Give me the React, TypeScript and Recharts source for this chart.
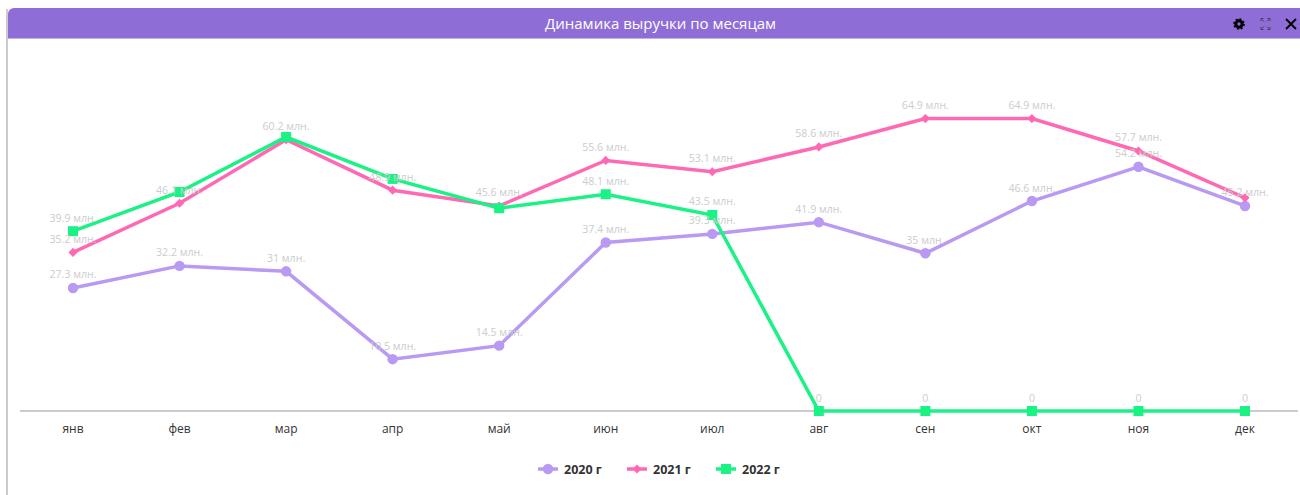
import React from "react";
import { LineChart, Line, XAxis, YAxis, Legend, LabelList, Symbols } from "recharts";

const months = ["янв", "фев", "мар", "апр", "май", "июн", "июл", "авг", "сен", "окт", "ноя", "дек"];
const values2020 = [27.3, 32.2, 31, 11.5, 14.5, 37.4, 39.3, 41.9, 35, 46.6, 54.2, 45.5];
const values2021 = [35.2, 46.1, 60.2, 49, 45.5, 55.6, 53.1, 58.6, 64.9, 64.9, 57.7, 47.3];
const values2022 = [39.9, 48.6, 60.8, 51.5, 45, 48.1, 43.5, 0, 0, 0, 0, 0];
const labels2020 = ["27.3 млн.", "32.2 млн.", "31 млн.", "10.5 млн.", "14.5 млн.", "37.4 млн.", "39.3 млн.", "41.9 млн.", "35 млн.", "46.6 млн.", "54.2 млн.", "45.2 млн."];
const labels2021 = ["35.2 млн.", "46.1 млн.", "60.2 млн.", "48.9 млн.", "45.6 млн.", "55.6 млн.", "53.1 млн.", "58.6 млн.", "64.9 млн.", "64.9 млн.", "57.7 млн.", ""];
const labels2022 = ["39.9 млн.", "", "", "", "", "48.1 млн.", "43.5 млн.", "0", "0", "0", "0", "0"];

const series = [
  { key: "y2020", name: "2020 г", color: "#b89af2", symbol: "circle", size: 85, label: "l2020", rotate: false },
  { key: "y2021", name: "2021 г", color: "#ff69b4", symbol: "square", size: 42, label: "l2021", rotate: true },
  { key: "y2022", name: "2022 г", color: "#1af285", symbol: "square", size: 100, label: "l2022", rotate: false },
] as const;

const data = months.map((month, i) => ({
  month,
  y2020: values2020[i],
  y2021: values2021[i],
  y2022: values2022[i],
  l2020: labels2020[i],
  l2021: labels2021[i],
  l2022: labels2022[i],
}));

const FONT = "'Open Sans', sans-serif";

const Marker = ({ s, cx, cy }: any) => (
  <g transform={s.rotate ? `rotate(45 ${cx} ${cy})` : undefined}>
    <Symbols type={s.symbol} size={s.size} cx={cx} cy={cy} fill={s.color} stroke="none" />
  </g>
);

const makeDot = (s: any) => (props: any) => <Marker key={props.index} s={s} cx={props.cx} cy={props.cy} />;

const PointLabel = (props: any) => {
  const { x, y, value } = props;
  if (!value) return null;
  return (
    <text x={x} y={y - 9.5} textAnchor="middle" fontFamily={FONT} fontSize={10.6} fontWeight={500} fill="#cccccc">
      {value}
    </text>
  );
};

const LegendContent = () => (
  <div style={{ display: "flex", justifyContent: "flex-start", alignItems: "center", height: 30, marginLeft: 518 }}>
    {series.map((s) => (
      <div key={s.key} style={{ display: "flex", alignItems: "center", width: 89, fontFamily: FONT, fontSize: 12.5, fontWeight: 700, color: "#333" }}>
        <svg width={20} height={12} style={{ marginRight: 6 }}>
          <line x1={0} x2={20} y1={6} y2={6} stroke={s.color} strokeWidth={3.5} />
          <Marker s={s} cx={10} cy={6} />
        </svg>
        {s.name}
      </div>
    ))}
  </div>
);

export default function App() {
  return (
    <div style={{ position: "absolute", left: 0, top: 0, width: 1300, height: 495, overflow: "hidden", background: "#fff" }}>
      <div style={{ position: "absolute", left: 6, top: 9, width: 2, height: 486, background: "#cccccc" }} />
      <div
        style={{
          position: "absolute", left: 8, top: 8, width: 1292, height: 30, background: "#8f6dd6",
          borderTopLeftRadius: 6, borderBottom: "1px solid #c3b0ea", color: "#fff", fontFamily: FONT,
          fontSize: 15, fontWeight: 500, lineHeight: "30px", textAlign: "center", boxSizing: "content-box",
        }}
      >
        <span style={{ position: "absolute", left: 537, top: 0, whiteSpace: "nowrap" }}>Динамика выручки по месяцам</span>
        <svg width={80} height={30} style={{ position: "absolute", left: 1212, top: 0 }}>
          <circle cx={19} cy={16} r={3.2} fill="none" stroke="#000" strokeWidth={3} />
          <circle cx={19} cy={16} r={5} fill="none" stroke="#000" strokeWidth={1.6} strokeDasharray="2 1.9" />
          <g stroke="#333" strokeWidth={0.8} fill="none">
            <path d="M41 13v-2.5h2.5M42 11.5l2 2M47.5 10.5h2.5v2.5M49 11.5l-2 2M41 19v2.5h2.5M42 20.5l2-2M50 19v2.5h-2.5M49 20.5l-2-2" />
          </g>
          <path d="M66 11l10 10M76 11l-10 10" stroke="#000" strokeWidth={1.8} />
        </svg>
      </div>
      <div style={{ position: "absolute", left: 0, top: 0 }}>
        <LineChart width={1300} height={495} data={data} margin={{ top: 50.5, right: 2, bottom: 11, left: 20 }}>
          <XAxis
            dataKey="month"
            height={43}
            padding={{ left: 53, right: 53 }}
            tickLine={false}
            axisLine={{ stroke: "#cccccc", strokeWidth: 2 }}
            tick={{ fill: "#333", fontSize: 12, fontFamily: FONT }}
            tickMargin={7}
            interval={0}
            zIndex={0}
          />
          <YAxis hide domain={[0, 80]} />
          <Legend verticalAlign="bottom" height={30} content={<LegendContent />} />
          {series.map((s) => (
            <Line
              key={s.key + "-labels"}
              dataKey={s.key}
              stroke="none"
              dot={false}
              activeDot={false}
              legendType="none"
              isAnimationActive={false}
            >
              <LabelList dataKey={s.label} content={<PointLabel />} />
            </Line>
          ))}
          {series.map((s) => (
            <Line
              key={s.key}
              dataKey={s.key}
              name={s.name}
              stroke={s.color}
              strokeWidth={3.5}
              dot={makeDot(s)}
              activeDot={false}
              isAnimationActive={false}
            />
          ))}
        </LineChart>
      </div>
    </div>
  );
}
